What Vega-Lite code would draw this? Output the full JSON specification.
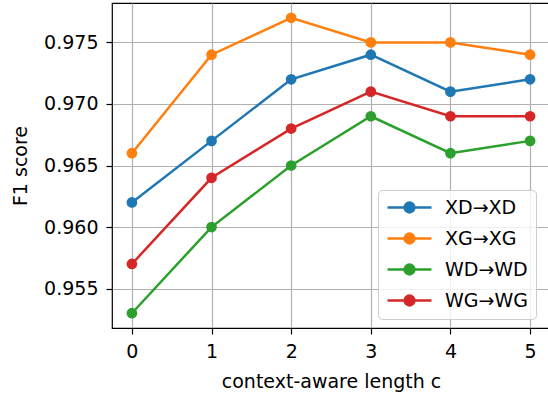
{
  "$schema": "https://vega.github.io/schema/vega-lite/v6.json",
  "autosize": "none",
  "padding": {"left": 112, "top": 3, "right": 0, "bottom": 69},
  "width": 438,
  "height": 325,
  "background": "white",
  "config": {
    "font": "DejaVu Sans",
    "view": {"stroke": "black", "strokeWidth": 1.2},
    "axis": {
      "labelFont": "DejaVu Sans",
      "titleFont": "DejaVu Sans",
      "labelFontSize": 19,
      "titleFontSize": 19,
      "titleFontWeight": "normal",
      "labelColor": "black",
      "titleColor": "black",
      "domain": false,
      "tickColor": "black",
      "tickSize": 6,
      "tickWidth": 1.2,
      "gridColor": "#b0b0b0",
      "gridWidth": 1.2,
      "gridOpacity": 1
    }
  },
  "data": {
    "values": [
      {"c": 0, "series": "XD→XD", "f1": 0.962},
      {"c": 1, "series": "XD→XD", "f1": 0.967},
      {"c": 2, "series": "XD→XD", "f1": 0.972},
      {"c": 3, "series": "XD→XD", "f1": 0.974},
      {"c": 4, "series": "XD→XD", "f1": 0.971},
      {"c": 5, "series": "XD→XD", "f1": 0.972},
      {"c": 0, "series": "XG→XG", "f1": 0.966},
      {"c": 1, "series": "XG→XG", "f1": 0.974},
      {"c": 2, "series": "XG→XG", "f1": 0.977},
      {"c": 3, "series": "XG→XG", "f1": 0.975},
      {"c": 4, "series": "XG→XG", "f1": 0.975},
      {"c": 5, "series": "XG→XG", "f1": 0.974},
      {"c": 0, "series": "WD→WD", "f1": 0.953},
      {"c": 1, "series": "WD→WD", "f1": 0.960},
      {"c": 2, "series": "WD→WD", "f1": 0.965},
      {"c": 3, "series": "WD→WD", "f1": 0.969},
      {"c": 4, "series": "WD→WD", "f1": 0.966},
      {"c": 5, "series": "WD→WD", "f1": 0.967},
      {"c": 0, "series": "WG→WG", "f1": 0.957},
      {"c": 1, "series": "WG→WG", "f1": 0.964},
      {"c": 2, "series": "WG→WG", "f1": 0.968},
      {"c": 3, "series": "WG→WG", "f1": 0.971},
      {"c": 4, "series": "WG→WG", "f1": 0.969},
      {"c": 5, "series": "WG→WG", "f1": 0.969}
    ]
  },
  "mark": {
    "type": "line",
    "strokeWidth": 2.5,
    "clip": true,
    "point": {"filled": true, "size": 115, "opacity": 1}
  },
  "encoding": {
    "x": {
      "field": "c",
      "type": "quantitative",
      "scale": {"domain": [-0.25, 5.25], "nice": false, "zero": false},
      "axis": {"values": [0, 1, 2, 3, 4, 5], "format": "d", "labelPadding": 8, "titlePadding": 11, "title": "context-aware length c"}
    },
    "y": {
      "field": "f1",
      "type": "quantitative",
      "scale": {"domain": [0.9518, 0.9782], "nice": false, "zero": false},
      "axis": {"values": [0.955, 0.96, 0.965, 0.97, 0.975], "format": ".3f", "labelPadding": 8, "titlePadding": 13, "title": "F1 score"}
    },
    "color": {
      "field": "series",
      "type": "nominal",
      "scale": {
        "domain": ["XD→XD", "XG→XG", "WD→WD", "WG→WG"],
        "range": ["#1f77b4", "#ff7f0e", "#2ca02c", "#d62728"]
      },
      "legend": {
        "title": null,
        "orient": "none",
        "legendX": 266,
        "legendY": 187,
        "labelFont": "DejaVu Sans",
        "labelFontSize": 19,
        "labelColor": "black",
        "symbolType": "M -3.14 0 L 3.14 0 M -0.7 0 A 0.7 0.7 0 1 0 0.7 0 A 0.7 0.7 0 1 0 -0.7 0 Z",
        "symbolSize": 196,
        "symbolStrokeWidth": 2.5,
        "symbolOffset": 14,
        "labelOffset": 26,
        "rowPadding": 10,
        "padding": 8,
        "fillColor": "rgba(255,255,255,0.8)",
        "strokeColor": "#cccccc",
        "cornerRadius": 4
      }
    }
  }
}
